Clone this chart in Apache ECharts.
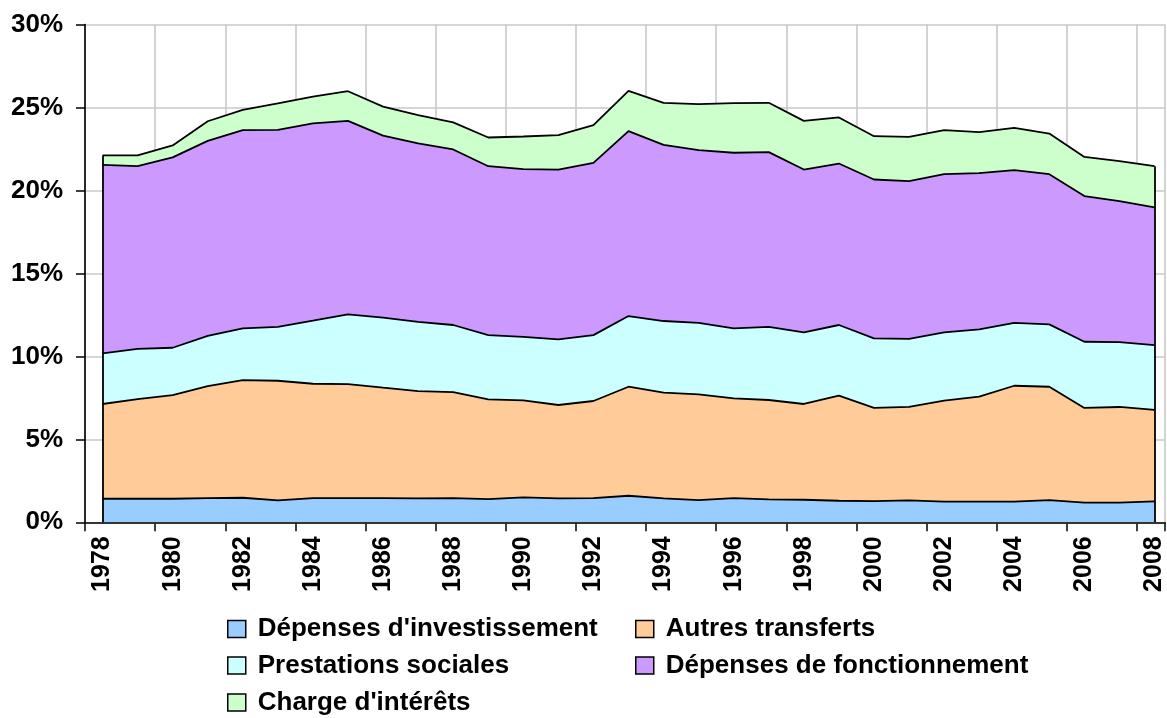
<!DOCTYPE html>
<html>
<head>
<meta charset="utf-8">
<script src="https://cdn.jsdelivr.net/npm/echarts@6/dist/echarts.min.js"></script>
<style>
html,body{margin:0;padding:0;background:#fff;}
#chart{width:1167px;height:718px;}
</style>
</head>
<body>
<div id="chart"></div>
<script>
// ---- Data (share of GDP, %) ----
var years = [1978,1979,1980,1981,1982,1983,1984,1985,1986,1987,1988,1989,1990,1991,1992,1993,1994,1995,1996,1997,1998,1999,2000,2001,2002,2003,2004,2005,2006,2007,2008];
var investissement = [1.42,1.42,1.42,1.46,1.48,1.32,1.46,1.46,1.46,1.44,1.46,1.40,1.50,1.44,1.46,1.60,1.44,1.34,1.46,1.38,1.36,1.30,1.28,1.32,1.24,1.24,1.24,1.34,1.18,1.18,1.26];
var autresTransferts = [5.71,6.00,6.25,6.75,7.09,7.21,6.89,6.87,6.65,6.47,6.39,6.01,5.85,5.63,5.85,6.57,6.37,6.37,6.01,5.99,5.77,6.33,5.62,5.64,6.09,6.33,6.99,6.83,5.71,5.77,5.52];
var prestations = [3.05,3.03,2.85,3.03,3.12,3.25,3.80,4.20,4.23,4.17,4.04,3.87,3.83,3.95,3.97,4.26,4.32,4.31,4.22,4.41,4.32,4.26,4.18,4.10,4.12,4.06,3.79,3.76,3.99,3.91,3.90];
var fonctionnement = [11.36,11.01,11.47,11.75,11.94,11.87,11.89,11.66,10.96,10.75,10.58,10.18,10.10,10.24,10.38,11.14,10.62,10.41,10.58,10.53,9.81,9.73,9.58,9.50,9.53,9.41,9.20,9.05,8.78,8.50,8.30];
var interets = [0.57,0.65,0.72,1.18,1.23,1.59,1.62,1.79,1.75,1.71,1.63,1.73,1.97,2.07,2.27,2.43,2.53,2.77,2.99,2.97,2.93,2.78,2.61,2.67,2.65,2.47,2.55,2.45,2.36,2.41,2.48];
var seriesNames = ["Dépenses d'investissement","Autres transferts","Prestations sociales","Dépenses de fonctionnement","Charge d'intérêts"];
var seriesColors = ['#99CCFF','#FFCC99','#CCFFFF','#CC99FF','#CCFFCC'];
var yTicks = [0,5,10,15,20,25,30];

var seriesValues = [investissement, autresTransferts, prestations, fonctionnement, interets];
var FONT = "'Liberation Sans', Arial, sans-serif";

// cumulative (stacked) values, computed from the series arrays
var cumulative = [];
seriesValues.forEach(function(vals, k){
  cumulative.push(vals.map(function(v, i){ return +( (k ? cumulative[k-1][i] : 0) + v ).toFixed(4); }));
});
var totals = cumulative[cumulative.length-1];
var last = years.length-1;

function pairs(vals){ return years.map(function(y,i){ return [y, vals[i]]; }); }

var series = cumulative.map(function(vals, k){
  var s = {
    name: seriesNames[k], type: 'line',
    xAxisIndex: 1, yAxisIndex: 0,
    data: pairs(vals),
    showSymbol: false, symbol: 'none',
    color: seriesColors[k],
    itemStyle: { color: seriesColors[k] },
    lineStyle: { color: '#000', width: 1.8 },
    areaStyle: { color: seriesColors[k], opacity: 1, origin: 'start' },
    emphasis: { disabled: true },
    z: 10 - k
  };
  if (k === cumulative.length - 1) {
    s.markLine = {
      silent: true, symbol: 'none', label: { show: false },
      lineStyle: { color: '#000', width: 1.8, type: 'solid' },
      z: 20,
      data: [
        [{ coord: [years[0], 0] }, { coord: [years[0], totals[0]] }],
        [{ coord: [years[last], 0] }, { coord: [years[last], totals[last]] }]
      ]
    };
  }
  return s;
});

var legendLayout = [
  { idx: 0, left: 227, top: 616 },
  { idx: 1, left: 635, top: 616 },
  { idx: 2, left: 227, top: 652.5 },
  { idx: 3, left: 635, top: 652.5 },
  { idx: 4, left: 227, top: 689.5 }
];
var legends = legendLayout.map(function(L){
  return {
    data: [seriesNames[L.idx]],
    left: L.left, top: L.top, padding: 0,
    orient: 'horizontal', icon: 'rect',
    itemWidth: 18, itemHeight: 17,
    itemStyle: { color: seriesColors[L.idx], borderColor: '#000', borderWidth: 1.5 },
    selectedMode: false,
    textStyle: { fontFamily: FONT, fontWeight: 'bold', fontSize: 26, color: '#000', lineHeight: 26, padding: [0,0,0,7] }
  };
});

var chart = echarts.init(document.getElementById('chart'), null, { renderer: 'canvas' });
chart.setOption({
  animation: false,
  backgroundColor: '#fff',
  grid: { left: 85, right: 0, top: 24.5, bottom: 195.7, containLabel: false },
  legend: legends,
  xAxis: [
    { // vertical grid lines and ticks (offset half a year from the labels)
      type: 'value', position: 'bottom', offset: 0,
      min: 0, max: 30.8, interval: 2,
      axisLine: { show: false },
      axisTick: { show: true, length: 9, lineStyle: { color: '#000', width: 1.5 } },
      axisLabel: { show: false },
      splitLine: { show: true, lineStyle: { color: '#c8c8c8', width: 1.6 } },
      z: 0
    },
    { // data axis with year labels
      type: 'value', position: 'bottom', offset: 0,
      min: 1977.5, max: 2008.3, interval: 0.5,
      axisLine: { show: true, onZero: false, lineStyle: { color: '#000', width: 1.6 } },
      axisTick: { show: false }, splitLine: { show: false },
      axisLabel: {
        show: true, rotate: 90, margin: 14,
        fontFamily: FONT, fontWeight: 'bold', fontSize: 25, color: '#000',
        showMinLabel: true, showMaxLabel: true,
        formatter: function(v){
          var r = Math.round(v);
          if (Math.abs(v - r) < 1e-6 && (r - years[0]) % 2 === 0) return String(r);
          return '';
        }
      },
      z: 30
    }
  ],
  yAxis: [{
    type: 'value', min: yTicks[0], max: yTicks[yTicks.length-1], interval: 5,
    axisLine: { show: true, lineStyle: { color: '#000', width: 1.6 } },
    axisTick: { show: true, length: 9, lineStyle: { color: '#000', width: 1.5 } },
    axisLabel: { margin: 22, fontFamily: FONT, fontWeight: 'bold', fontSize: 26, color: '#000', formatter: '{value}%' },
    splitLine: { show: true, lineStyle: { color: '#c8c8c8', width: 1.6 } },
    z: 1
  }],
  series: series
});
</script>
</body>
</html>
